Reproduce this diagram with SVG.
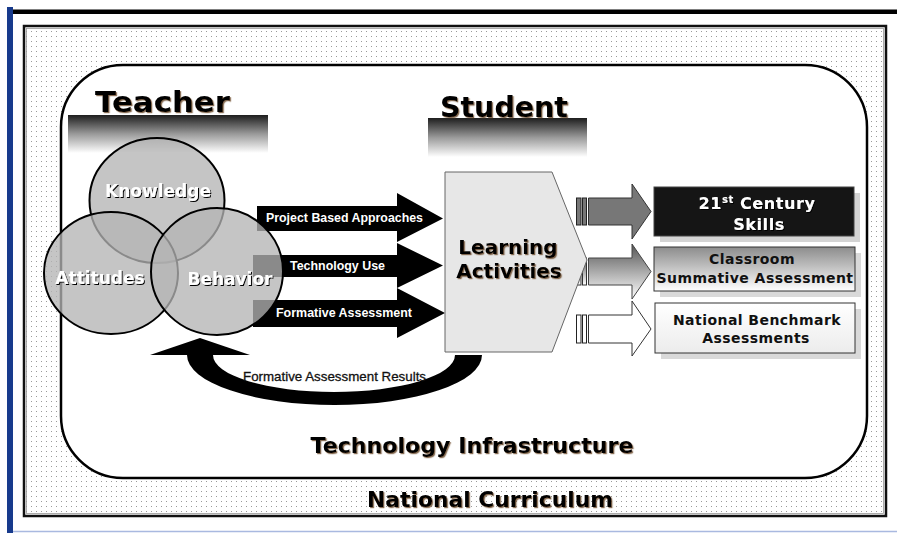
<svg xmlns="http://www.w3.org/2000/svg" width="897" height="533" viewBox="0 0 897 533">
<style>
.hd{font-family:"DejaVu Sans","Liberation Sans",sans-serif;font-weight:bold;fill:#000}
.ct{font-family:"DejaVu Sans","Liberation Sans",sans-serif;font-weight:bold;font-size:17px;fill:#fff;text-anchor:middle}
.al{font-family:"Liberation Sans",Arial,sans-serif;font-weight:bold;font-size:13.5px;fill:#fff}
.bx{font-family:"DejaVu Sans","Liberation Sans",sans-serif;font-weight:bold;font-size:14px;text-anchor:middle;letter-spacing:0.45px}
.circ{fill:#b3b3b3;fill-opacity:0.77;stroke:#000;stroke-width:2}
</style>
<defs>
<pattern id="dots" width="5" height="5" patternUnits="userSpaceOnUse">
<rect width="5" height="5" fill="#fff"/>
<rect x="1" y="1" width="1" height="1" fill="#9a9a9a"/>
</pattern>
<linearGradient id="bar" x1="0" y1="0" x2="0" y2="1">
<stop offset="0" stop-color="#1e1e1e"/>
<stop offset="0.5" stop-color="#9a9a9a"/>
<stop offset="1" stop-color="#fff"/>
</linearGradient>
<linearGradient id="g2" x1="0" y1="0" x2="0" y2="1">
<stop offset="0" stop-color="#555"/>
<stop offset="1" stop-color="#fff"/>
</linearGradient>
<linearGradient id="gbox2" x1="0" y1="0" x2="0" y2="1">
<stop offset="0" stop-color="#8c8c8c"/>
<stop offset="1" stop-color="#fff"/>
</linearGradient>
<linearGradient id="gbox3" x1="0" y1="0" x2="0" y2="1">
<stop offset="0" stop-color="#fff"/>
<stop offset="1" stop-color="#ececec"/>
</linearGradient>
<filter id="sh" x="-10%" y="-20%" width="130%" height="150%">
<feDropShadow dx="1.2" dy="1.2" stdDeviation="0.4" flood-color="#6a4a2a" flood-opacity="0.8"/>
</filter>
<filter id="shw" x="-10%" y="-20%" width="130%" height="150%">
<feDropShadow dx="1" dy="1" stdDeviation="0.3" flood-color="#000" flood-opacity="1"/>
</filter>
</defs>

<!-- page frame -->
<rect x="7" y="7" width="6" height="526" fill="#173a8c"/>
<rect x="13" y="9.5" width="884" height="4.5" fill="#000"/>
<line x1="13" y1="531.5" x2="897" y2="531.5" stroke="#a9b9e0" stroke-width="1.5"/>

<!-- National Curriculum box -->
<rect x="24" y="26" width="862" height="490" fill="url(#dots)" stroke="#111" stroke-width="2.5"/>
<rect x="26.5" y="28.5" width="857" height="485" fill="none" stroke="#999" stroke-width="0.8"/>

<!-- Technology Infrastructure box -->
<rect x="61" y="65" width="806" height="413" rx="62" ry="62" fill="#fff" stroke="#000" stroke-width="2.5"/>

<!-- heading bars -->
<rect x="68" y="115" width="200" height="38" fill="url(#bar)"/>
<rect x="428" y="118" width="159" height="39" fill="url(#bar)"/>
<text class="hd" x="95" y="112" font-size="29" textLength="135" lengthAdjust="spacingAndGlyphs" filter="url(#sh)">Teacher</text>
<text class="hd" x="440" y="117" font-size="29" textLength="128" lengthAdjust="spacingAndGlyphs" filter="url(#sh)">Student</text>

<!-- connectors -->
<g id="connectors">
  <g id="arrow-project">
    <polygon points="257,206 397,206 397,193 443,218.5 397,242 397,231 257,231" fill="#000"/>
    <text class="al" x="266" y="222" textLength="157" lengthAdjust="spacingAndGlyphs">Project Based Approaches</text>
  </g>
  <g id="arrow-tech">
    <polygon points="253,255 397,255 397,243 443,265.5 397,288 397,277 253,277" fill="#000"/>
    <text class="al" x="290" y="270" textLength="95" lengthAdjust="spacingAndGlyphs">Technology Use</text>
  </g>
  <g id="arrow-formative">
    <polygon points="253,300 397,300 397,288 445,313 397,338 397,327 253,327" fill="#000"/>
    <text class="al" x="276" y="317" textLength="136" lengthAdjust="spacingAndGlyphs">Formative Assessment</text>
  </g>
  <g id="arrow-feedback">
    <path d="M187,355 A147.5,50 0 0 0 482,355 L455,355 A121,37 0 0 1 213,355 Z" fill="#000"/>
    <polygon points="150,355 200,338 250,355" fill="#000"/>
    <text x="243" y="381" font-family="Liberation Sans, Arial, sans-serif" font-size="13.5" fill="#111" stroke="#111" stroke-width="0.3" textLength="183" lengthAdjust="spacingAndGlyphs">Formative Assessment Results</text>
  </g>
  <g id="arrow-out1">
    <rect x="576.5" y="198" width="4.5" height="27" fill="#777" stroke="#222"/>
    <rect x="582.5" y="198" width="4" height="27" fill="#777" stroke="#222"/>
    <polygon points="588.5,198 632,198 632,184 651,211.5 632,239 632,225 588.5,225" fill="#777" stroke="#333"/>
  </g>
  <g id="arrow-out2">
    <rect x="576.5" y="258" width="4.5" height="27" fill="url(#g2)" stroke="#333"/>
    <rect x="582.5" y="258" width="4" height="27" fill="url(#g2)" stroke="#333"/>
    <polygon points="588.5,258 632,258 632,244 651,271.5 632,299 632,285 588.5,285" fill="url(#g2)" stroke="#444"/>
  </g>
  <g id="arrow-out3">
    <rect x="576.5" y="315" width="4.5" height="28" fill="#fff" stroke="#222"/>
    <rect x="582.5" y="315" width="4" height="28" fill="#fff" stroke="#222"/>
    <polygon points="588.5,315 632,315 632,301 651,329 632,356 632,343 588.5,343" fill="#fff" stroke="#333"/>
  </g>
</g>

<!-- Teacher circles -->
<g id="knowledge">
  <ellipse class="circ" cx="157" cy="200.5" rx="67.5" ry="62.5"/>
</g>
<g id="attitudes">
  <ellipse class="circ" cx="111" cy="273" rx="67" ry="61"/>
</g>
<g id="behavior">
  <ellipse class="circ" cx="217" cy="271.5" rx="66" ry="63.5"/>
</g>
<text class="ct" x="158" y="197" filter="url(#shw)">Knowledge</text>
<text class="ct" x="100" y="284" filter="url(#shw)">Attitudes</text>
<text class="ct" x="230" y="285" filter="url(#shw)">Behavior</text>

<!-- Learning Activities -->
<g id="learning-activities">
  <polygon points="445,172 552,172 587,260 552,352 445,352" fill="#e7e7e7" stroke="#666" stroke-width="1"/>
  <text class="hd" x="508" y="254" font-size="20" text-anchor="middle" filter="url(#sh)">Learning</text>
  <text class="hd" x="509" y="278" font-size="20" text-anchor="middle" filter="url(#sh)">Activities</text>
</g>

<!-- Outcome boxes -->
<g id="century-skills">
  <rect x="660" y="193" width="200" height="49" fill="#d4d4d4"/>
  <rect x="654" y="187" width="200" height="49" fill="#151515" stroke="#444"/>
  <text class="bx" x="757" y="209" fill="#fff" style="font-size:16px;letter-spacing:0.6px" filter="url(#shw)">21<tspan font-size="10" dy="-6">st</tspan><tspan dy="6"> Century</tspan></text>
  <text class="bx" x="759" y="230" fill="#fff" style="font-size:16px;letter-spacing:0.6px" filter="url(#shw)">Skills</text>
</g>
<g id="classroom-summative">
  <rect x="660" y="253" width="201" height="44" fill="#d9d9d9"/>
  <rect x="654" y="247" width="201" height="44" fill="url(#gbox2)" stroke="#333"/>
  <text class="bx" x="752" y="264" fill="#111">Classroom</text>
  <text class="bx" x="755" y="283" fill="#111">Summative Assessment</text>
</g>
<g id="national-benchmark">
  <rect x="661" y="309" width="200" height="50" fill="#d9d9d9"/>
  <rect x="655" y="303" width="200" height="50" fill="url(#gbox3)" stroke="#333"/>
  <text class="bx" x="757" y="325" fill="#111">National Benchmark</text>
  <text class="bx" x="756" y="343" fill="#111">Assessments</text>
</g>

<!-- frame labels -->
<text class="hd" x="472" y="453" font-size="22" text-anchor="middle" textLength="323" lengthAdjust="spacingAndGlyphs" filter="url(#sh)">Technology Infrastructure</text>
<text class="hd" x="490" y="507" font-size="22" text-anchor="middle" textLength="246" lengthAdjust="spacingAndGlyphs" filter="url(#sh)">National Curriculum</text>
</svg>
